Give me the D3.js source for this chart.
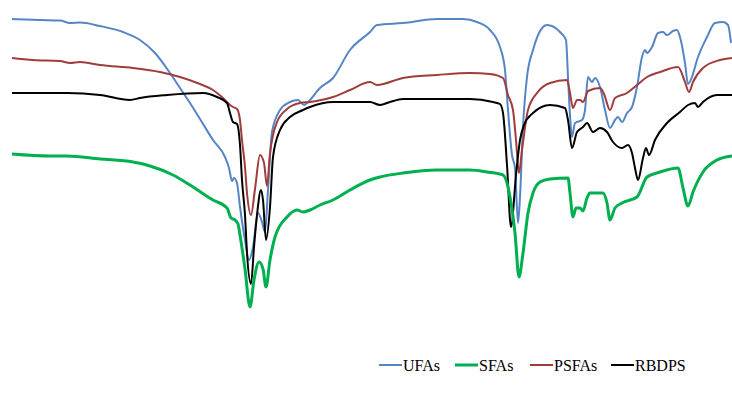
<!DOCTYPE html>
<html>
<head>
<meta charset="utf-8">
<script src="https://cdn.jsdelivr.net/npm/d3@7"></script>
<style>
  body { margin: 0; background: #fff; }
  svg { display: block; }
  .legend { font-family: "Liberation Serif", "Times New Roman", serif; font-size: 16px; fill: #000; }
</style>
</head>
<body>
<svg width="732" height="412"></svg>
<script>
// spectra: [position, depth] (depth grows downward)
var ufas = [[12,19],[40,20],[60,20.5],[70,23],[80,22.5],[100,26],[123,32],[140,40],[155,53],[170,73],[180,88],[190,103],[200,119],[213,140],[225,157],[229,168],[232,181],[234,178],[237,183],[240,207],[245,240],[249,260],[253,247],[258,213],[262,222],[265,232],[268,190],[272,132],[280,110],[290,102],[298,100],[304,105],[308,102],[320,88],[333,78],[350,50],[370,32],[377,25],[403,23],[437,19],[463,19],[477,22],[490,30],[500,47],[505,70],[508,110],[512,155],[515,168],[518,223],[520,197],[523,127],[527,77],[533,50],[543,27],[547,25],[560,32],[566,40],[568,77],[570,115],[572,137],[575,123],[582,120],[585,110],[588,77],[592,82],[595,78],[600,87],[605,110],[610,128],[615,120],[618,117],[622,122],[627,113],[632,107],[637,87],[642,57],[645,50],[647,53],[652,47],[658,33],[663,32],[667,35],[673,31],[677,30],[680,37],[685,63],[688,84],[692,77],[697,60],[707,37],[715,23],[723,22],[728,25],[731,43]];

var sfas = [[12,154],[50,156],[67,156],[100,159],[133,162],[150,166],[173,175],[193,187],[213,200],[227,208],[231,218],[235,220],[238,224],[240,235],[245,269],[250,307],[254,280],[259,262],[263,269],[266,287],[270,260],[275,237],[287,217],[297,210],[303,212],[310,210],[320,205],[333,200],[350,190],[370,180],[380,177],[403,173],[437,170],[470,170],[487,172],[503,175],[510,197],[515,233],[519,277],[523,253],[528,213],[533,193],[540,182],[550,179],[568,178],[570,193],[573,217],[576,208],[580,208],[583,211],[587,198],[590,193],[603,193],[607,203],[610,220],[615,208],[622,203],[637,197],[647,177],[660,172],[678,168],[683,188],[688,206],[693,192],[703,172],[717,160],[732,156]];

var psfas = [[12,58],[33,60],[60,61],[70,63],[80,62],[100,65],[133,68],[160,72],[180,77],[200,84],[213,90],[223,98],[230,105],[233,107],[237,109],[240,120],[242,140],[245,167],[247,193],[251,215],[255,189],[260,155],[264,163],[267,186],[270,153],[273,135],[277,122],[287,109],[300,103],[310,102],[333,97],[350,90],[370,82],[377,85],[403,78],[437,75],[470,73],[490,74],[503,78],[508,95],[513,110],[516,140],[519,173],[522,150],[528,110],[537,93],[550,83],[567,80],[570,93],[573,108],[577,100],[580,100],[583,102],[588,91],[600,88],[604,94],[610,110],[615,98],[627,93],[637,85],[647,77],[660,72],[678,67],[685,82],[689,92],[693,82],[703,68],[720,60],[732,58]];

var rbdps = [[12,93],[67,93],[100,95],[130,100],[140,98],[167,95],[203,93],[217,97],[227,103],[230,113],[233,122],[237,124],[240,145],[242,180],[245,215],[247,253],[251,284],[254,247],[257,215],[261,190],[263,200],[266,240],[270,207],[273,157],[280,130],[290,117],[303,110],[310,107],[333,102],[370,102],[380,105],[390,102],[403,99],[470,99],[493,102],[500,104],[503,113],[507,165],[511,227],[516,175],[520,140],[524,125],[533,113],[550,105],[565,108],[568,120],[572,148],[577,132],[583,127],[587,123],[593,132],[600,128],[607,132],[613,142],[622,148],[628,145],[632,153],[635,168],[638,180],[643,158],[646,148],[649,155],[655,140],[667,123],[680,112],[688,105],[695,103],[698,107],[703,102],[717,95],[732,95]];

var names = ["UFAs", "SFAs", "PSFAs", "RBDPS"];
var colors = ["#5585C5", "#00B050", "#A03C3C", "#000000"];
var widths = [2, 3, 2, 2];
var seriesList = [ufas, sfas, psfas, rbdps];

var svg = d3.select("svg");
var width = +svg.attr("width");
var height = +svg.attr("height");

var xScale = d3.scaleLinear().domain([0, 732]).range([0, width]);
var yScale = d3.scaleLinear().domain([0, 412]).range([0, height]);

var line = d3.line()
    .x(function(d) { return xScale(d[0]); })
    .y(function(d) { return yScale(d[1]); })
    .curve(d3.curveMonotoneX);

// draw order: blue, red, black, green on top where they cross
var order = [0, 2, 3, 1];
order.forEach(function(i) {
    svg.append("path")
        .datum(seriesList[i])
        .attr("fill", "none")
        .attr("stroke", colors[i])
        .attr("stroke-width", widths[i])
        .attr("stroke-linejoin", "round")
        .attr("d", line);
});

// legend
var legendX = [379, 455, 530, 611];
var legend = svg.append("g").attr("transform", "translate(0,365)");
names.forEach(function(n, i) {
    legend.append("line")
        .attr("x1", legendX[i]).attr("x2", legendX[i] + 23)
        .attr("y1", 0).attr("y2", 0)
        .attr("stroke", colors[i])
        .attr("stroke-width", widths[i]);
    legend.append("text")
        .attr("class", "legend")
        .attr("x", legendX[i] + 24)
        .attr("y", 6)
        .text(n);
});
</script>
</body>
</html>
